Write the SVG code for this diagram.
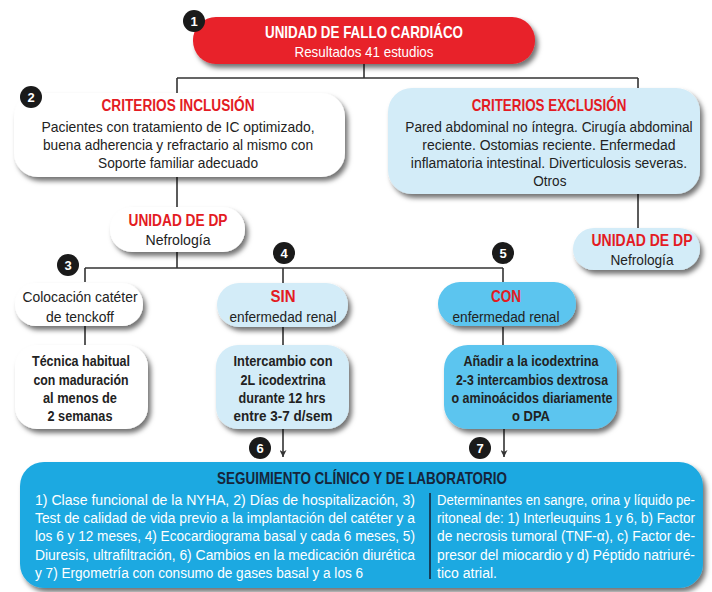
<svg xmlns="http://www.w3.org/2000/svg" width="712" height="592" viewBox="0 0 712 592">
<defs>
<filter id="sh" x="-10%" y="-20%" width="125%" height="150%">
<feDropShadow dx="3" dy="4" stdDeviation="2.5" flood-color="#000" flood-opacity="0.55"/>
</filter>
<marker id="ar" viewBox="0 0 10 10" refX="10" refY="5" markerWidth="10" markerHeight="7" orient="auto" markerUnits="userSpaceOnUse">
<path d="M0,0 L10,5 L0,10 L3,5 Z" fill="#333"/>
</marker>
<style>
text{font-family:"Liberation Sans Narrow","Liberation Sans",Arial,sans-serif;text-anchor:middle}
.h{font-weight:bold;fill:#e31b23;font-size:16px}
.b{fill:#222;font-size:15px}
.bb{fill:#222;font-size:15px;font-weight:bold}
.w{fill:#fff}
.ln{stroke:#333;stroke-width:1.6;fill:none}
.num{fill:#1a1a1a}
.nt{fill:#fff;font-weight:bold;font-size:13px}
.wt{fill:#fff;font-size:15px;text-anchor:start}
</style>
</defs>
<rect width="712" height="592" fill="#fff"/>
<g id="connectors">
<path class="ln" d="M364,64 V78 M177,78 H638 M177,78 V93 M638,78 V88"/>
<path class="ln" d="M638,194 V228 M177,177 V207 M177,252 V268 M85,268 H503 M85,268 V282 M283,268 V283 M503,268 V282"/>
<path class="ln" d="M85,326 V345 M283,327 V345 M503,327 V345"/>
<path class="ln" d="M283,428 V457" marker-end="url(#ar)"/>
<path class="ln" d="M504,428 V457" marker-end="url(#ar)"/>
</g>
<g id="n1">
<rect x="193" y="17" width="342" height="47" rx="23" fill="#e8202a" filter="url(#sh)"/>
<text x="364" y="38" class="w" style="font-weight:bold;font-size:17px" textLength="198" lengthAdjust="spacingAndGlyphs">UNIDAD DE FALLO CARDIÁCO</text>
<text x="364" y="57" class="w" style="font-size:15px" textLength="139" lengthAdjust="spacingAndGlyphs">Resultados 41 estudios</text>
<circle cx="194" cy="21" r="11" class="num"/><text x="194" y="25.5" class="nt">1</text>
</g>
<g id="n2">
<rect x="14" y="93" width="331" height="84" rx="24" fill="#fff" filter="url(#sh)"/>
<text x="178" y="111" class="h" textLength="153" lengthAdjust="spacingAndGlyphs">CRITERIOS INCLUSIÓN</text>
<text x="178" y="132" class="b" textLength="273" lengthAdjust="spacingAndGlyphs">Pacientes con tratamiento de IC optimizado,</text>
<text x="178" y="150" class="b" textLength="270" lengthAdjust="spacingAndGlyphs">buena adherencia y refractario al mismo con</text>
<text x="178" y="168" class="b" textLength="160" lengthAdjust="spacingAndGlyphs">Soporte familiar adecuado</text>
<circle cx="31" cy="97" r="11" class="num"/><text x="31" y="101.5" class="nt">2</text>
</g>
<g id="nexcl">
<rect x="388" y="88" width="312" height="106" rx="24" fill="#d3ecf8" filter="url(#sh)"/>
<g transform="matrix(0.85,0,0,1,82.35,0)">
<text x="549" y="111" class="h" textLength="182" lengthAdjust="spacingAndGlyphs">CRITERIOS EXCLUSIÓN</text>
<text x="549" y="132" class="b" textLength="338" lengthAdjust="spacingAndGlyphs">Pared abdominal no íntegra. Cirugía abdominal</text>
<text x="549" y="150" class="b" textLength="298" lengthAdjust="spacingAndGlyphs">reciente. Ostomias reciente. Enfermedad</text>
<text x="549" y="168" class="b" textLength="325" lengthAdjust="spacingAndGlyphs">inflamatoria intestinal. Diverticulosis severas.</text>
<text x="550" y="186" class="b" textLength="39" lengthAdjust="spacingAndGlyphs">Otros</text>
</g>
</g>
<g id="ndpR">
<rect x="573" y="228" width="127" height="42" rx="21" fill="#d3ecf8" filter="url(#sh)"/>
<text x="642" y="246" class="h" textLength="101" lengthAdjust="spacingAndGlyphs">UNIDAD DE DP</text>
<text x="642" y="265" class="b" textLength="63" lengthAdjust="spacingAndGlyphs">Nefrología</text>
</g>
<g id="ndpL">
<rect x="110" y="207" width="135" height="45" rx="22" fill="#fff" filter="url(#sh)"/>
<text x="178" y="226" class="h" textLength="99" lengthAdjust="spacingAndGlyphs">UNIDAD DE DP</text>
<text x="178" y="245" class="b" textLength="65" lengthAdjust="spacingAndGlyphs">Nefrología</text>
</g>
<g id="n3">
<rect x="15" y="283" width="128" height="43" rx="21" fill="#fff" filter="url(#sh)"/>
<text x="80" y="302" class="b" textLength="115" lengthAdjust="spacingAndGlyphs">Colocación catéter</text>
<text x="80" y="322" class="b" textLength="68" lengthAdjust="spacingAndGlyphs">de tenckoff</text>
<circle cx="68" cy="265" r="11" class="num"/><text x="68" y="269.5" class="nt">3</text>
</g>
<g id="n4">
<rect x="217" y="283" width="131" height="44" rx="22" fill="#d3ecf8" filter="url(#sh)"/>
<text x="283" y="302" class="h" textLength="25" lengthAdjust="spacingAndGlyphs">SIN</text>
<text x="283" y="322" class="b" textLength="107" lengthAdjust="spacingAndGlyphs">enfermedad renal</text>
<circle cx="284" cy="253" r="11" class="num"/><text x="284" y="257.5" class="nt">4</text>
</g>
<g id="n5">
<rect x="438" y="282" width="138" height="44" rx="22" fill="#5bc5ef" filter="url(#sh)"/>
<text x="506" y="302" class="h" textLength="30" lengthAdjust="spacingAndGlyphs">CON</text>
<text x="506" y="322" class="b" textLength="107" lengthAdjust="spacingAndGlyphs">enfermedad renal</text>
<circle cx="503" cy="253" r="11" class="num"/><text x="503" y="257.5" class="nt">5</text>
</g>
<g id="n3b">
<rect x="15" y="345" width="133" height="84" rx="22" fill="#fff" filter="url(#sh)"/>
<text x="81" y="366" class="bb" textLength="98" lengthAdjust="spacingAndGlyphs">Técnica habitual</text>
<text x="81" y="385" class="bb" textLength="95" lengthAdjust="spacingAndGlyphs">con maduración</text>
<text x="80" y="403" class="bb" textLength="74" lengthAdjust="spacingAndGlyphs">al menos de</text>
<text x="80" y="421" class="bb" textLength="65" lengthAdjust="spacingAndGlyphs">2 semanas</text>
</g>
<g id="n4b">
<rect x="216" y="345" width="133" height="84" rx="22" fill="#d3ecf8" filter="url(#sh)"/>
<text x="283" y="366" class="bb" textLength="99" lengthAdjust="spacingAndGlyphs">Intercambio con</text>
<text x="283" y="385" class="bb" textLength="85" lengthAdjust="spacingAndGlyphs">2L icodextrina</text>
<text x="282" y="403" class="bb" textLength="87" lengthAdjust="spacingAndGlyphs">durante 12 hrs</text>
<text x="283" y="421" class="bb" textLength="99" lengthAdjust="spacingAndGlyphs">entre 3-7 d/sem</text>
</g>
<g id="n5b">
<rect x="444" y="345" width="173" height="84" rx="24" fill="#5bc5ef" filter="url(#sh)"/>
<text x="531" y="366" class="bb" textLength="135" lengthAdjust="spacingAndGlyphs">Añadir a la icodextrina</text>
<text x="532" y="385" class="bb" textLength="152" lengthAdjust="spacingAndGlyphs">2-3 intercambios dextrosa</text>
<text x="532" y="403" class="bb" textLength="161" lengthAdjust="spacingAndGlyphs">o aminoácidos diariamente</text>
<text x="531" y="421" class="bb" textLength="38" lengthAdjust="spacingAndGlyphs">o DPA</text>
</g>
<g id="n6">
<circle cx="260" cy="448" r="11" class="num"/><text x="260" y="452.5" class="nt">6</text>
</g>
<g id="n7">
<circle cx="480" cy="448" r="11" class="num"/><text x="480" y="452.5" class="nt">7</text>
</g>
<g id="nseg">
<rect x="20" y="462" width="683" height="126" rx="24" fill="#1ba9e1" filter="url(#sh)"/>
<g transform="matrix(0.85,0,0,1,54.3,0)">
<text x="362" y="484" style="font-weight:bold;font-size:16px;fill:#16253a" textLength="341" lengthAdjust="spacingAndGlyphs">SEGUIMIENTO CLÍNICO Y DE LABORATORIO</text>
</g>
<line x1="430" y1="493" x2="430" y2="579" stroke="#16253a" stroke-width="1.6"/>
<g transform="matrix(0.85,0,0,1,5.25,0)">
<text x="35" y="505" class="wt" textLength="447" lengthAdjust="spacingAndGlyphs">1) Clase funcional de la NYHA, 2) Días de hospitalización, 3)</text>
<text x="35" y="523" class="wt" textLength="447" lengthAdjust="spacingAndGlyphs">Test de calidad de vida previo a la implantación del catéter y a</text>
<text x="35" y="541" class="wt" textLength="447" lengthAdjust="spacingAndGlyphs">los 6 y 12 meses, 4) Ecocardiograma basal y cada 6 meses, 5)</text>
<text x="35" y="560" class="wt" textLength="447" lengthAdjust="spacingAndGlyphs">Diuresis, ultrafiltración, 6) Cambios en la medicación diurética</text>
<text x="35" y="578" class="wt" textLength="386" lengthAdjust="spacingAndGlyphs">y 7) Ergometría con consumo de gases basal y a los 6</text>
</g>
<g transform="matrix(0.85,0,0,1,65.55,0)">
<text x="437" y="505" class="wt" textLength="303.5" lengthAdjust="spacingAndGlyphs">Determinantes en sangre, orina y líquido pe-</text>
<text x="437" y="523" class="wt" textLength="303.5" lengthAdjust="spacingAndGlyphs">ritoneal de: 1) Interleuquins 1 y 6, b) Factor</text>
<text x="437" y="541" class="wt" textLength="303.5" lengthAdjust="spacingAndGlyphs">de necrosis tumoral (TNF-α), c) Factor de-</text>
<text x="437" y="560" class="wt" textLength="303.5" lengthAdjust="spacingAndGlyphs">presor del miocardio y d) Péptido natriuré-</text>
<text x="437" y="578" class="wt" textLength="70.6" lengthAdjust="spacingAndGlyphs">tico atrial.</text>
</g>
</g>
</svg>
